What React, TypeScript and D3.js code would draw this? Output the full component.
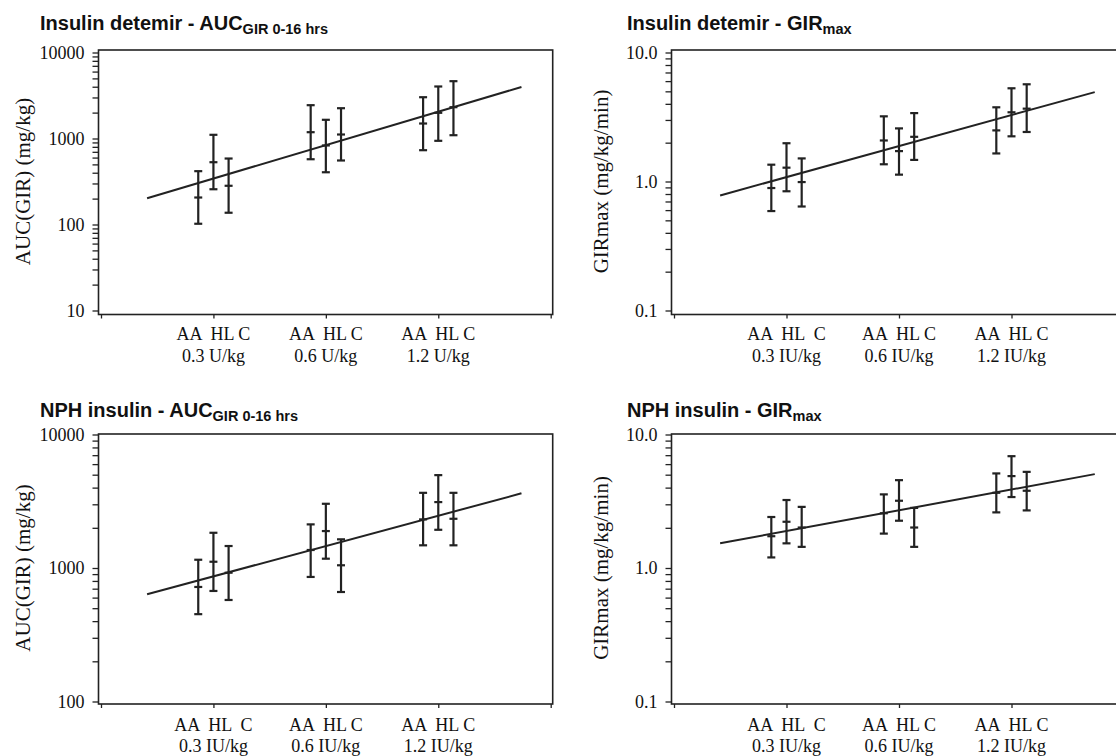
import React, { useRef, useEffect } from 'react';
import * as d3 from 'd3';

// categories
const subjects = ['AA', 'HL', 'C'];
const groupPos = [1, 2, 3];
const subjectOffset = [-0.135, 0, 0.135];
const axisTicks = [0, 1, 2, 3, 4];
const fitX = [0.41, 3.74];

// tick labels
const aucTicks = [10, 100, 1000, 10000];
const aucTickLabels = ['10', '100', '1000', '10000'];
const girTicks = [0.1, 1, 10];
const girTickLabels = ['0.1', '1.0', '10.0'];

const doseLabelsU = ['0.3 U/kg', '0.6 U/kg', '1.2 U/kg'];
const doseLabelsIU = ['0.3 IU/kg', '0.6 IU/kg', '1.2 IU/kg'];
const groupLabelsA = ['AA  HL C', 'AA  HL C', 'AA  HL C'];
const groupLabelsB = ['AA  HL  C', 'AA  HL C', 'AA  HL C'];

// Insulin detemir - AUC (mg/kg), rows = dose, cols = AA / HL / C
const detAucMean = [[206, 530, 282], [1184, 830, 1113], [1494, 1990, 2312]];
const detAucLow = [[102, 257, 137], [574, 405, 555], [731, 940, 1092]];
const detAucHigh = [[417, 1104, 585], [2440, 1650, 2250], [3020, 4025, 4640]];
const detAucFit = [202, 3970];

// Insulin detemir - GIRmax (mg/kg/min)
const detGirMean = [[0.89, 1.28, 0.99], [2.08, 1.72, 2.22], [2.49, 3.44, 3.67]];
const detGirLow = [[0.59, 0.84, 0.64], [1.36, 1.13, 1.47], [1.65, 2.24, 2.42]];
const detGirHigh = [[1.35, 1.98, 1.51], [3.2, 2.58, 3.39], [3.76, 5.28, 5.67]];
const detGirFit = [0.78, 4.93];

// NPH insulin - AUC (mg/kg)
const nphAucMean = [[721, 1114, 922], [1364, 1891, 1048], [2313, 3117, 2337]];
const nphAucLow = [[451, 673, 576], [857, 1174, 661], [1479, 1933, 1479]];
const nphAucHigh = [[1153, 1836, 1461], [2122, 3027, 1640], [3657, 4962, 3657]];
const nphAucFit = [636, 3625];

// NPH insulin - GIRmax (mg/kg/min)
const nphGirMean = [[1.73, 2.22, 2.01], [2.57, 3.19, 2.01], [3.66, 4.88, 3.79]];
const nphGirLow = [[1.2, 1.53, 1.44], [1.81, 2.26, 1.44], [2.61, 3.4, 2.7]];
const nphGirHigh = [[2.41, 3.23, 2.87], [3.56, 4.55, 2.82], [5.11, 6.88, 5.25]];
const nphGirFit = [1.53, 5.05];

const panels = [
  { col: 0, row: 0, title: 'Insulin detemir - AUC', sub: 'GIR 0-16 hrs', yLabel: 'AUC(GIR) (mg/kg)',
    domain: [10, 10000], ticks: aucTicks, tickLabels: aucTickLabels, doses: doseLabelsU, groups: groupLabelsA,
    mean: detAucMean, low: detAucLow, high: detAucHigh, fit: detAucFit },
  { col: 1, row: 0, title: 'Insulin detemir - GIR', sub: 'max', yLabel: 'GIRmax (mg/kg/min)',
    domain: [0.1, 10], ticks: girTicks, tickLabels: girTickLabels, doses: doseLabelsIU, groups: groupLabelsB,
    mean: detGirMean, low: detGirLow, high: detGirHigh, fit: detGirFit },
  { col: 0, row: 1, title: 'NPH insulin - AUC', sub: 'GIR 0-16 hrs', yLabel: 'AUC(GIR) (mg/kg)',
    domain: [100, 10000], ticks: aucTicks, tickLabels: aucTickLabels, doses: doseLabelsIU, groups: groupLabelsB,
    mean: nphAucMean, low: nphAucLow, high: nphAucHigh, fit: nphAucFit },
  { col: 1, row: 1, title: 'NPH insulin - GIR', sub: 'max', yLabel: 'GIRmax (mg/kg/min)',
    domain: [0.1, 10], ticks: girTicks, tickLabels: girTickLabels, doses: doseLabelsIU, groups: groupLabelsB,
    mean: nphGirMean, low: nphGirLow, high: nphGirHigh, fit: nphGirFit },
];

const W = 1116;
const H = 756;
const ink = '#222';
const serif = '"Liberation Serif", "Times New Roman", serif';
const sans = '"Liberation Sans", Arial, sans-serif';

// layout of the 2x2 grid
const cols = [
  { x0: 101, x4: 550.7, titleX: 40, yLabelX: 23 },
  { x0: 674, x4: 1124, titleX: 627, yLabelX: 601 },
];
const rows = [
  { top: 52.5, bottom: 310.5, frameTop: 50, frameBottom: 314.5, titleY: 29.5, lab1: 25, lab2: 47 },
  { top: 434.5, bottom: 701.5, frameTop: 434, frameBottom: 704, titleY: 417, lab1: 27, lab2: 47.5 },
];

export default function App() {
  const ref = useRef(null);

  useEffect(() => {
    const svg = d3.select(ref.current);
    svg.selectAll('*').remove();

    panels.forEach(p => {
      const c = cols[p.col];
      const r = rows[p.row];
      const x = d3.scaleLinear().domain([0, 4]).range([c.x0, c.x4]);
      const y = d3.scaleLog().domain(p.domain).range([r.bottom, r.top]);
      const left = c.x0 - 2.5;
      const right = c.x4 + 2;
      const g = svg.append('g');

      // Title
      const t = g.append('text')
        .attr('x', c.titleX)
        .attr('y', r.titleY)
        .attr('font-family', sans)
        .attr('font-weight', 'bold')
        .attr('font-size', 20)
        .attr('fill', '#111');
      t.append('tspan').text(p.title);
      t.append('tspan').attr('font-size', 14.5).attr('dy', 4).text(p.sub);

      // Frame
      g.append('rect')
        .attr('x', left)
        .attr('y', r.frameTop)
        .attr('width', right - left)
        .attr('height', r.frameBottom - r.frameTop)
        .attr('fill', 'none')
        .attr('stroke', ink)
        .attr('stroke-width', 1.6);

      // Y axis (log, minor ticks unlabeled)
      const labelFor = d => {
        const i = p.ticks.findIndex(v => Math.abs(Math.log10(v) - Math.log10(+d)) < 1e-6);
        return i >= 0 ? p.tickLabels[i] : '';
      };
      const ya = g.append('g')
        .attr('transform', `translate(${left},0)`)
        .call(d3.axisLeft(y).tickValues(y.ticks()).tickSize(6).tickSizeOuter(0).tickPadding(8).tickFormat(labelFor));
      ya.select('.domain').remove();
      ya.selectAll('line').attr('stroke', ink).attr('stroke-width', 1.3);
      ya.selectAll('text')
        .attr('font-family', serif)
        .attr('font-size', 18)
        .attr('fill', '#111');

      // Y axis title
      g.append('text')
        .attr('transform', `translate(${c.yLabelX},${(r.top + r.bottom) / 2}) rotate(-90)`)
        .attr('text-anchor', 'middle')
        .attr('dominant-baseline', 'central')
        .attr('font-family', serif)
        .attr('font-size', 21)
        .attr('fill', '#111')
        .text(p.yLabel);

      // X axis
      const xa = g.append('g')
        .attr('transform', `translate(0,${r.frameBottom})`)
        .call(d3.axisBottom(x).tickValues(axisTicks).tickSize(4).tickSizeOuter(0).tickFormat(() => ''));
      xa.select('.domain').remove();
      xa.selectAll('line').attr('stroke', ink).attr('stroke-width', 1.3);

      groupPos.forEach((gp, i) => {
        g.append('text')
          .attr('x', x(gp))
          .attr('y', r.frameBottom + r.lab1)
          .attr('text-anchor', 'middle')
          .attr('font-family', serif)
          .attr('font-size', 18)
          .attr('fill', '#111')
          .style('white-space', 'pre')
          .text(p.groups[i]);
        g.append('text')
          .attr('x', x(gp))
          .attr('y', r.frameBottom + r.lab2)
          .attr('text-anchor', 'middle')
          .attr('font-family', serif)
          .attr('font-size', 18)
          .attr('fill', '#111')
          .text(p.doses[i]);
      });

      // Regression line
      g.append('path')
        .datum(fitX.map((fx, i) => [fx, p.fit[i]]))
        .attr('fill', 'none')
        .attr('stroke', ink)
        .attr('stroke-width', 2)
        .attr('d', d3.line().x(d => x(d[0])).y(d => y(d[1])));

      // Error bars
      groupPos.forEach((gp, gi) => {
        subjects.forEach((s, si) => {
          const cx = x(gp + subjectOffset[si]);
          const lo = y(p.low[gi][si]);
          const hi = y(p.high[gi][si]);
          const mu = y(p.mean[gi][si]);
          const bar = g.append('g').attr('stroke', ink).attr('stroke-width', 2.2);
          bar.append('line').attr('x1', cx).attr('x2', cx).attr('y1', lo).attr('y2', hi);
          [lo, hi, mu].forEach(yy => {
            bar.append('line').attr('x1', cx - 4).attr('x2', cx + 4).attr('y1', yy).attr('y2', yy);
          });
        });
      });
    });
  }, []);

  return (
    <svg
      ref={ref}
      width={W}
      height={H}
      style={{ position: 'absolute', left: 0, top: 0, display: 'block', background: '#fff' }}
    />
  );
}
